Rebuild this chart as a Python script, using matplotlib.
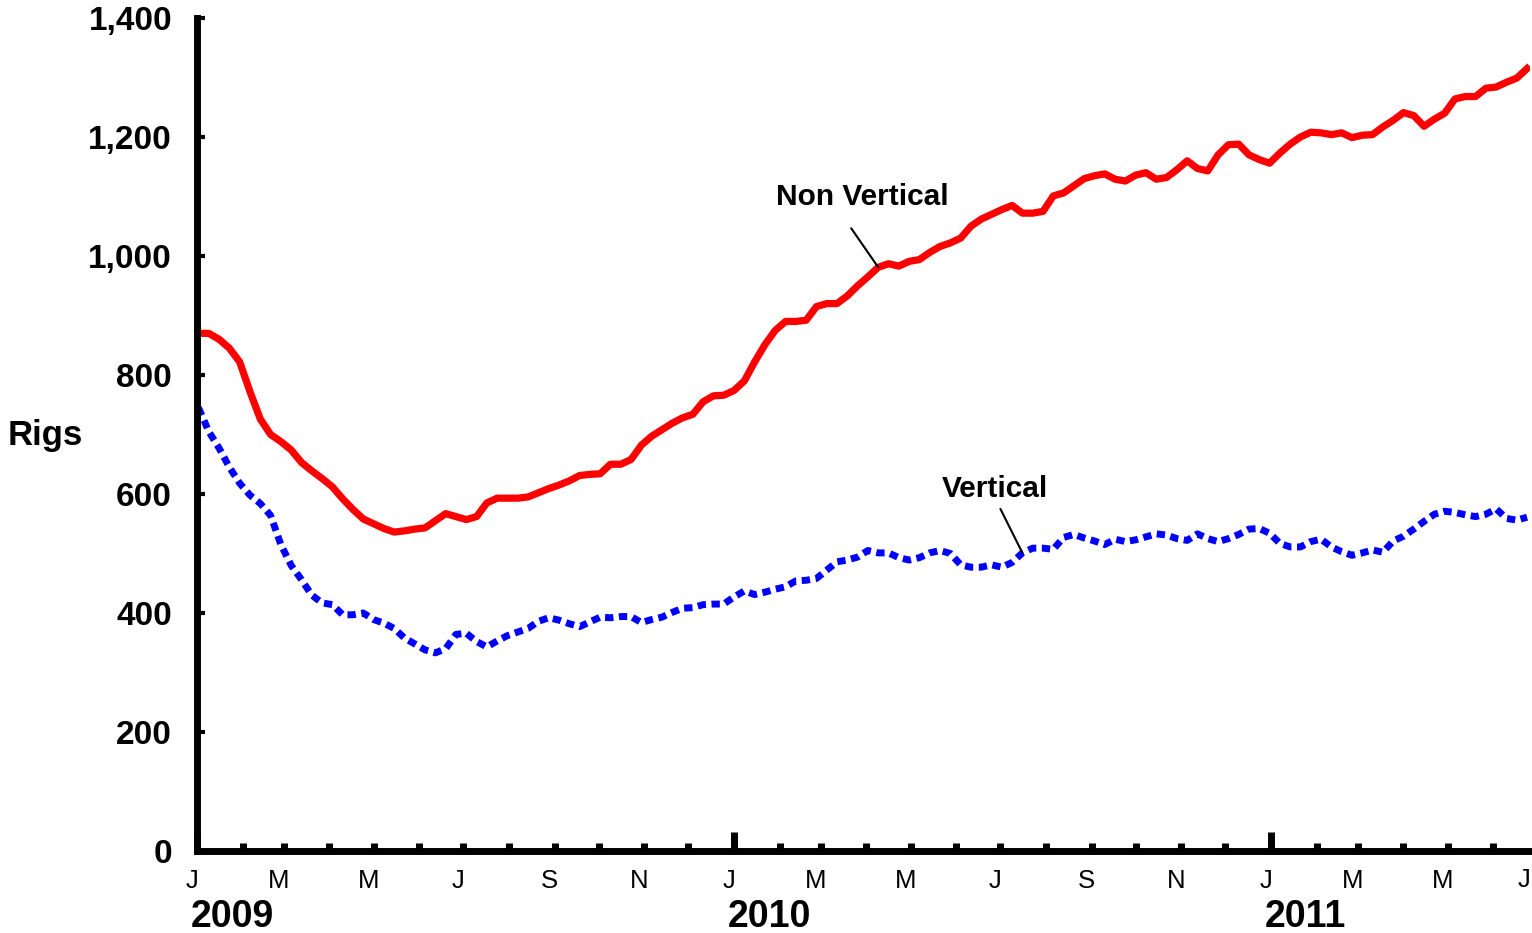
import matplotlib
matplotlib.use("Agg")
import matplotlib.pyplot as plt
import matplotlib.dates as mdates
import matplotlib.transforms as mtransforms
from matplotlib.ticker import FuncFormatter
import numpy as np
import pandas as pd

plt.rcParams['font.family'] = ['Liberation Sans', 'DejaVu Sans']

# weekly rig counts, first Friday of 2009 onward
weeks = pd.date_range('2009-01-02', periods=130, freq='7D')

non_vertical = [
    870, 870, 860, 845, 822, 772, 726, 700, 688, 674,
    653, 639, 626, 612, 592, 574, 558, 550, 542, 536,
    538, 541, 543, 555, 567, 562, 557, 562, 585, 593,
    593, 593, 595, 602, 609, 615, 622, 631, 633, 634,
    650, 650, 658, 682, 697, 708, 719, 728, 734, 755,
    765, 766, 774, 790, 822, 851, 875, 890, 890, 892,
    915, 920, 920, 933, 950, 965, 981, 987, 983, 991,
    994, 1006, 1016, 1022, 1030, 1050, 1062, 1070, 1078, 1085,
    1072, 1072, 1075, 1101, 1106, 1118, 1130, 1135, 1138, 1129,
    1126, 1136, 1140, 1129, 1132, 1145, 1160, 1147, 1143, 1170,
    1187, 1188, 1170, 1162, 1156, 1173, 1188, 1200, 1208, 1207,
    1204, 1207, 1199, 1203, 1204, 1217, 1228, 1241, 1236, 1218,
    1230, 1240, 1264, 1268, 1268, 1282, 1284, 1292, 1299, 1315,
]

vertical = [
    745, 705, 677, 645, 618, 598, 584, 564, 515, 480,
    456, 430, 417, 414, 397, 397, 400, 389, 383, 374,
    358, 348, 338, 333, 340, 364, 366, 352, 343, 353,
    362, 368, 374, 386, 392, 388, 382, 377, 385, 393,
    392, 394, 394, 384, 389, 393, 401, 408, 409, 414,
    415, 415, 427, 437, 431, 435, 440, 444, 454, 455,
    458, 472, 486, 489, 494, 505, 501, 501, 493, 489,
    493, 501, 505, 500, 481, 477, 477, 481, 477, 485,
    501, 509, 509, 507, 527, 532, 526, 521, 515, 524,
    520, 523, 528, 533, 531, 525, 522, 533, 525, 520,
    525, 532, 541, 542, 534, 517, 511, 511, 520, 524,
    511, 503, 497, 501, 506, 502, 521, 529, 541, 554,
    566, 571, 569, 565, 562, 566, 575, 559, 556, 561,
]

month_letters = ['J', 'F', 'M', 'A', 'M', 'J', 'J', 'A', 'S', 'O', 'N', 'D']
years = [2009, 2010, 2011]
y_ticks = [0, 200, 400, 600, 800, 1000, 1200, 1400]

fig = plt.figure(figsize=(15.32, 9.33), dpi=100)
ax = fig.add_axes([0.1286, 0.0879, 0.8701, 0.8928])

ax.plot(weeks, vertical, color='#0000ff', lw=5, dashes=(1.2, 0.8),
        solid_capstyle='butt', dash_capstyle='butt')
ax.plot(weeks, non_vertical, color='#ff0000', lw=5.2, solid_joinstyle='round')

ax.set_xlim(pd.Timestamp('2009-01-01'), pd.Timestamp('2011-06-26'))
ax.set_ylim(0, 1400)

for side in ['top', 'right']:
    ax.spines[side].set_visible(False)
for side in ['left', 'bottom']:
    ax.spines[side].set_linewidth(5)
    ax.spines[side].set_capstyle('projecting')

ax.set_yticks(y_ticks)
ax.yaxis.set_major_formatter(FuncFormatter(lambda v, _: f'{v:,.0f}'))
ax.tick_params(axis='y', direction='in', length=6, width=3, pad=18,
               labelsize=24)
for lab in ax.get_yticklabels():
    lab.set_fontweight('bold')

ax.xaxis.set_major_locator(mdates.YearLocator())
ax.xaxis.set_major_formatter(FuncFormatter(lambda v, _: 'J'))
ax.xaxis.set_minor_locator(mdates.MonthLocator())


def minor_lab(v, _):
    m = mdates.num2date(v).month
    return month_letters[m - 1] if m % 2 == 1 and m != 1 else ''


ax.xaxis.set_minor_formatter(FuncFormatter(minor_lab))
ax.tick_params(axis='x', which='major', direction='in', length=14, width=5,
               pad=13, labelsize=18.5)
ax.tick_params(axis='x', which='minor', direction='in', length=6, width=5,
               pad=13, labelsize=18.5)

# month letters sit a few pixels left of their ticks
shift = mtransforms.ScaledTranslation(-5 / 100, 0, fig.dpi_scale_trans)
for lab in ax.get_xticklabels(which='both'):
    lab.set_transform(lab.get_transform() + shift)

# last "J" sits at the end of the axis
ax.text(pd.Timestamp('2011-06-22'), -0.0204, 'J',
        transform=ax.get_xaxis_transform(), ha='center', va='top',
        fontsize=18.5)

trans = ax.get_xaxis_transform()
for yr in years:
    ax.text(pd.Timestamp(f'{yr}-01-01') - pd.Timedelta(days=4), -0.0912, str(yr),
            transform=trans, ha='left', va='baseline', fontsize=27,
            fontweight='bold')

ax.text(-0.114, 0.487, 'Rigs', transform=ax.transAxes, ha='center',
        va='baseline', fontsize=25, fontweight='bold')

# callouts
nv_i = 66
v_i = 80
ax.annotate('', xy=(weeks[nv_i], non_vertical[nv_i]), xytext=(-27, 39),
            textcoords='offset pixels',
            arrowprops=dict(arrowstyle='-', color='black', lw=1.5,
                            shrinkA=0, shrinkB=0))
ax.annotate('Non Vertical', xy=(weeks[nv_i], non_vertical[nv_i]),
            xytext=(-16, 62), textcoords='offset pixels', ha='center',
            va='baseline', fontsize=21.5, fontweight='bold')
ax.annotate('', xy=(weeks[v_i], vertical[v_i]), xytext=(-22, 44),
            textcoords='offset pixels',
            arrowprops=dict(arrowstyle='-', color='black', lw=1.5,
                            shrinkA=0, shrinkB=0))
ax.annotate('Vertical', xy=(weeks[v_i], vertical[v_i]),
            xytext=(-27, 56), textcoords='offset pixels', ha='center',
            va='baseline', fontsize=21.5, fontweight='bold')

fig.savefig('out.png', dpi=100)
